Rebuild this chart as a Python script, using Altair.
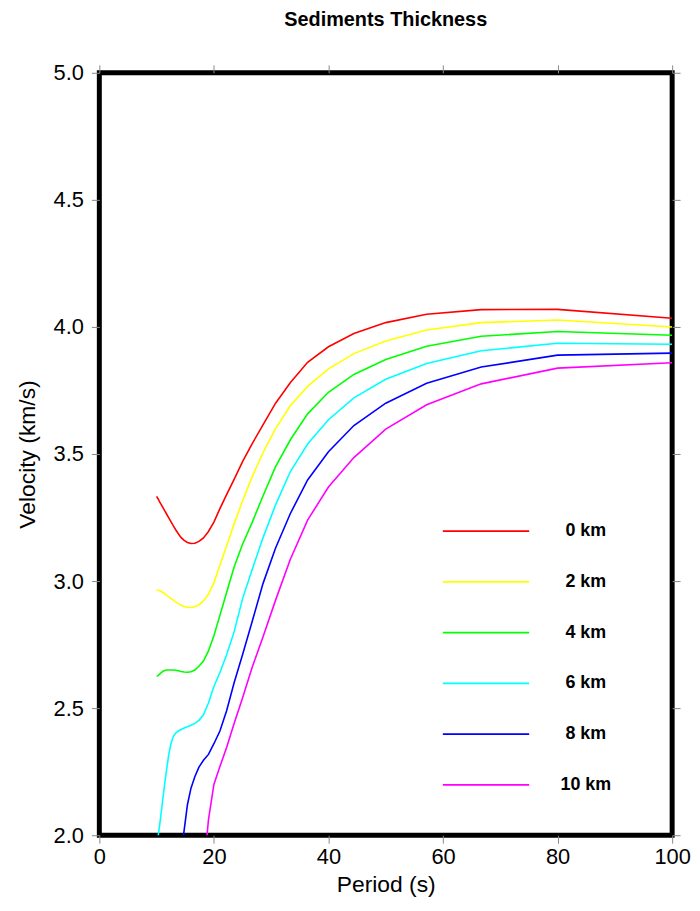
import altair as alt
import pandas as pd

periods = [10.0, 10.26, 10.53, 10.81, 11.11, 11.43, 11.76, 12.12, 12.5, 12.9,
           13.33, 13.79, 14.29, 14.81, 15.38, 16.0, 16.67, 17.39, 18.18, 19.05,
           20.0, 21.05, 22.22, 23.53, 25.0, 26.67, 28.57, 30.77, 33.33, 36.36,
           40.0, 44.44, 50.0, 57.14, 66.67, 80.0, 100.0]

v0 = [3.333, 3.323, 3.312, 3.301, 3.289, 3.276, 3.263, 3.249, 3.234, 3.218,
      3.202, 3.186, 3.171, 3.160, 3.152, 3.148, 3.149, 3.156, 3.170, 3.195,
      3.232, 3.285, 3.340, 3.400, 3.470, 3.540, 3.615, 3.700, 3.780, 3.861,
      3.922, 3.974, 4.017, 4.050, 4.068, 4.069, 4.034]
v2 = [2.965, 2.964, 2.962, 2.959, 2.955, 2.950, 2.944, 2.938, 2.932, 2.925,
      2.918, 2.911, 2.905, 2.900, 2.897, 2.896, 2.899, 2.907, 2.922, 2.948,
      2.993, 3.063, 3.138, 3.225, 3.315, 3.410, 3.505, 3.600, 3.690, 3.766,
      3.835, 3.895, 3.945, 3.988, 4.017, 4.027, 4.000]
v4 = [2.625, 2.628, 2.634, 2.640, 2.645, 2.648, 2.650, 2.650, 2.650, 2.650,
      2.649, 2.647, 2.644, 2.642, 2.641, 2.643, 2.650, 2.665, 2.685, 2.725,
      2.785, 2.865, 2.955, 3.055, 3.145, 3.230, 3.335, 3.450, 3.555, 3.658,
      3.743, 3.813, 3.872, 3.924, 3.963, 3.982, 3.967]
v6 = [1.950, 1.995, 2.040, 2.090, 2.148, 2.205, 2.260, 2.318, 2.360, 2.388,
      2.402, 2.410, 2.416, 2.422, 2.427, 2.433, 2.440, 2.452, 2.474, 2.520,
      2.585, 2.640, 2.710, 2.800, 2.930, 3.045, 3.170, 3.300, 3.430, 3.539,
      3.635, 3.721, 3.794, 3.856, 3.906, 3.936, 3.932]
v8 = [1.880, 1.930, 2.020, 2.120, 2.185, 2.230, 2.268, 2.295, 2.318, 2.360,
      2.410, 2.490, 2.600, 2.710, 2.840, 2.990, 3.130, 3.265, 3.398, 3.509,
      3.612, 3.700, 3.778, 3.842, 3.889, 3.897]
v10 = [1.850, 2.060, 2.200, 2.270, 2.345, 2.440, 2.540, 2.660, 2.780, 2.925,
       3.085, 3.240, 3.370, 3.486, 3.598, 3.694, 3.776, 3.838, 3.859]

names = ["0 km", "2 km", "4 km", "6 km", "8 km", "10 km"]
colors = ["#ff0000", "#ffff00", "#00ff00", "#00ffff", "#0000ff", "#ff00ff"]
x_ticks = [0, 20, 40, 60, 80, 100]
y_ticks = [2.0, 2.5, 3.0, 3.5, 4.0, 4.5, 5.0]

rows = []
for name, vals in zip(names, [v0, v2, v4, v6, v8, v10]):
    for p, v in zip(periods[-len(vals):], vals):
        rows.append({"Period": p, "Velocity": v, "Thickness": name})
df = pd.DataFrame(rows)
leg = pd.DataFrame({"Thickness": names})

FONT = "Liberation Sans"
W, H = 577, 768

color = alt.Color("Thickness:N", scale=alt.Scale(domain=names, range=colors), legend=None)
xscale = alt.Scale(domain=[0, 100], nice=False, zero=False)
yscale = alt.Scale(domain=[2, 5], nice=False, zero=False)

lines = alt.Chart(df).mark_line(clip=True, strokeWidth=1.6).encode(
    x=alt.X("Period:Q", scale=xscale,
            axis=alt.Axis(orient="bottom", values=x_ticks, format="d", title="Period (s)",
                          labelPadding=3, titleX=W / 2, titleY=50, titleBaseline="middle",
                          titleAlign="center")),
    y=alt.Y("Velocity:Q", scale=yscale,
            axis=alt.Axis(orient="left", values=y_ticks, format=".1f", title="Velocity (km/s)",
                          labelPadding=8, titleX=-72, titleY=H / 2, titleAngle=270,
                          titleBaseline="middle", titleAlign="center")),
    color=color,
    order=alt.Order("Period:Q"),
)

mirror = alt.Chart(df).mark_line(strokeOpacity=0).encode(
    x=alt.X("Period:Q", scale=xscale,
            axis=alt.Axis(orient="top", values=x_ticks, labels=False, title=None)),
    y=alt.Y("Velocity:Q", scale=yscale,
            axis=alt.Axis(orient="right", values=y_ticks, labels=False, title=None)),
    detail="Thickness:N",
)

leg_y = alt.Y("Thickness:N", scale=alt.Scale(type="point", domain=names,
                                             range=[461.7, 717.3], padding=0), axis=None)
leg_rule = alt.Chart(leg).mark_rule(strokeWidth=1.6).encode(
    x=alt.value(346), x2=alt.value(433), y=leg_y, color=color)
leg_text = alt.Chart(leg).mark_text(font=FONT, fontSize=18, fontWeight="bold",
                                    align="center", baseline="middle", color="black").encode(
    x=alt.value(490), y=leg_y, text="Thickness:N")

chart = alt.layer(lines, mirror, leg_rule, leg_text).resolve_scale(
    x="independent", y="independent"
).properties(
    width=W, height=H,
    title=alt.TitleParams("Sediments Thickness", font=FONT, fontSize=20, fontWeight="bold",
                          anchor="middle", offset=32, color="black"),
    autosize=alt.AutoSizeParams(type="none"),
    padding={"left": 92, "top": 62, "right": 20, "bottom": 62},
).configure_view(
    stroke="black", strokeWidth=5
).configure_axis(
    domain=False, grid=False, tickColor="#888888", tickSize=8, tickWidth=1,
    labelFont=FONT, labelFontSize=22, labelColor="black", labelFlush=False,
    labelOverlap=False,
    titleFont=FONT, titleFontSize=23, titleFontWeight="normal", titleColor="black",
)

chart.save("out.html", embed_options={"renderer": "svg", "actions": False})
